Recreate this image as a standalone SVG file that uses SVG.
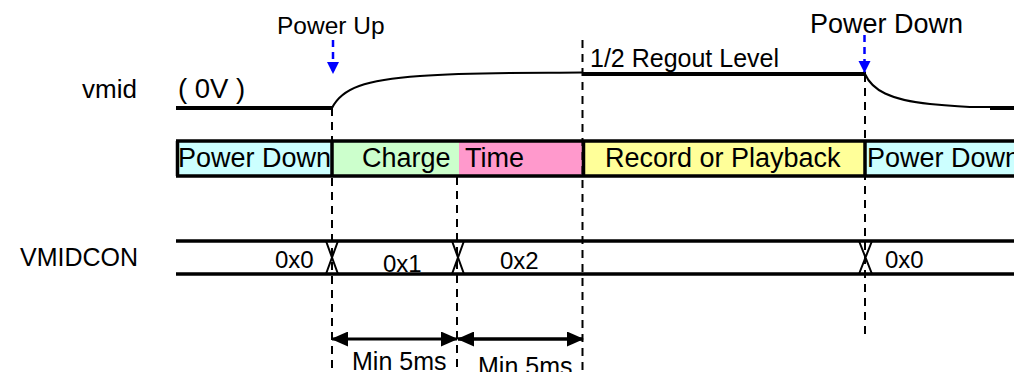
<svg xmlns="http://www.w3.org/2000/svg" width="1014" height="372" viewBox="0 0 1014 372">
<style>
  text { font-family: "Liberation Sans", Arial, sans-serif; fill: #000; }
  .lbl { font-size: 26px; }
  .bar { font-size: 27px; }
  .hex { font-size: 24px; }
  .thick { stroke: #000; stroke-width: 4; fill: none; }
  .thin { stroke: #000; stroke-width: 2; fill: none; }
  .dash { stroke: #000; stroke-width: 2; stroke-dasharray: 8 6; fill: none; }
  .blue { stroke: #0000FF; stroke-width: 2.5; stroke-dasharray: 7 5; fill: none; }
  .seg { stroke: none; }
  .bus { stroke: #000; stroke-width: 3.5; fill: none; }
  .xcross { stroke: #000; stroke-width: 2; fill: none; }
  .dim { stroke: #000; stroke-width: 3; fill: none; }
</style>
<defs>
  <marker id="blueHead" markerUnits="userSpaceOnUse" markerWidth="12" markerHeight="14" viewBox="0 0 12 14" refX="11" refY="6" orient="auto">
    <path d="M0,0 L12,6 L0,12 z" fill="#0000FF"/>
  </marker>
  <marker id="dimHead" markerUnits="userSpaceOnUse" markerWidth="17" markerHeight="15" viewBox="0 0 17 15" refX="16" refY="7.5" orient="auto-start-reverse">
    <path d="M0,0 L17,7.5 L0,15 z" fill="#000"/>
  </marker>
</defs>

<g id="label-vmid">
  <text class="lbl" x="82" y="98">vmid</text>
  <text class="lbl" x="178" y="98" style="font-size:27.5px">( 0V )</text>
</g>
<g id="label-vmidcon">
  <text class="lbl" x="20" y="266" style="font-size:25px">VMIDCON</text>
</g>
<g id="label-powerup">
  <text class="lbl" x="277" y="34" style="font-size:24.5px">Power Up</text>
</g>
<g id="label-powerdown">
  <text class="lbl" x="810" y="33" style="font-size:27px">Power Down</text>
</g>
<g id="label-regout">
  <text class="lbl" x="590" y="67" style="font-size:25px">1/2 Regout Level</text>
</g>

<g id="vmid-wave">
  <line class="thick" x1="176" y1="108" x2="332" y2="108"/>
  <path class="thin" d="M332,108 C342,88 365,80 420,76 S540,73 582,72.5"/>
  <line class="thick" x1="583" y1="74" x2="866" y2="74"/>
  <path class="thin" d="M865,74 C872,90 890,100 930,104 S975,107 990,107"/>
  <line class="thick" x1="990" y1="108" x2="1014" y2="108"/>
</g>

<g id="status-bar">
  <g id="seg-powerdown-1">
    <rect class="seg" x="176" y="141" width="156" height="35" fill="#CCFFFF"/>
    <text class="bar" x="178" y="167">Power Down</text>
  </g>
  <g id="seg-charge">
    <rect class="seg" x="332" y="141" width="127" height="35" fill="#CCFFCC"/>
    <text class="bar" x="362" y="167">Charge</text>
  </g>
  <g id="seg-time">
    <rect class="seg" x="459" y="141" width="124" height="35" fill="#FF99CC"/>
    <text class="bar" x="465" y="167">Time</text>
  </g>
  <g id="seg-record">
    <rect class="seg" x="583" y="141" width="282" height="35" fill="#FFFF99"/>
    <text class="bar" x="605" y="167">Record or Playback</text>
  </g>
  <g id="seg-powerdown-2">
    <rect class="seg" x="865" y="141" width="149" height="35" fill="#CCFFFF"/>
    <text class="bar" x="867" y="167">Power Down</text>
  </g>
  <path class="bus" d="M176,141 H1014 M176,176 H1014 M177.5,141 V176 M332,141 V176 M583.5,141 V176 M865,141 V176"/>
</g>

<g id="vmidcon-bus">
  <line class="bus" x1="176" y1="241" x2="1014" y2="241"/>
  <line class="bus" x1="176" y1="274" x2="1014" y2="274"/>
  <path class="xcross" d="M326,241 L338,274 M338,241 L326,274"/>
  <path class="xcross" d="M452,241 L464,274 M464,241 L452,274"/>
  <path class="xcross" d="M859,241 L872,274 M872,241 L859,274"/>
  <text class="hex" x="275" y="268">0x0</text>
  <text class="hex" x="383" y="272">0x1</text>
  <text class="hex" x="500" y="269">0x2</text>
  <text class="hex" x="885" y="268">0x0</text>
</g>

<g id="connectors">
  <line class="dash" x1="332" y1="108" x2="332" y2="372"/>
  <line class="dash" x1="457" y1="177" x2="457" y2="372"/>
  <line class="dash" x1="582.5" y1="40" x2="582.5" y2="372"/>
  <line class="dash" x1="865" y1="74" x2="865" y2="336"/>
  <line class="blue" x1="333" y1="40" x2="333" y2="73" marker-end="url(#blueHead)"/>
  <line class="blue" x1="864.5" y1="35" x2="864.5" y2="72" marker-end="url(#blueHead)"/>
  <line class="dim" x1="332" y1="339" x2="457" y2="339" marker-start="url(#dimHead)" marker-end="url(#dimHead)"/>
  <line class="dim" x1="458" y1="339" x2="583" y2="339" style="stroke-width:3.5" marker-start="url(#dimHead)" marker-end="url(#dimHead)"/>
</g>

<g id="dim-labels">
  <text class="lbl" x="352" y="370" style="font-size:25px">Min 5ms</text>
  <text class="lbl" x="478" y="375" style="font-size:25px">Min 5ms</text>
</g>
</svg>
